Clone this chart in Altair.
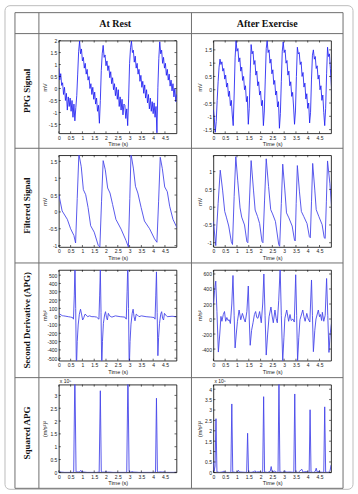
import altair as alt
import pandas as pd

FONT = "Liberation Sans"
SERIF = "Liberation Serif"
LINE = "#4747ea"
LINE_NOISY = "#1f1ff2"

W = 118
HEIGHTS = [93, 92, 91, 88]
XDOM = [0, 4.99]
X_TICKS = [0, 0.5, 1, 1.5, 2, 2.5, 3, 3.5, 4, 4.5]

COL_TITLES = ["At Rest", "After Exercise"]
ROW_TITLES = ["PPG Signal", "Filtered Signal", "Second Derivative (APG)", "Squared APG"]

# ---------------- PPG signal (sampled every 0.04 s) ----------------
PPG_T = [round(i * 0.04, 2) for i in range(127)]
PPG_REST = [
    0.85, 0.36, 0.62, 0.13, 0.24, -0.25, 0.05, -0.50, -0.20, -0.90,
    -0.35, -0.75, -0.40, -0.95, -0.50, -1.20, -0.65, -1.35, -0.80, -0.30,
    0.60, 1.55, 1.98, 1.45, 1.65, 1.15, 1.30, 0.85, 1.05, 0.60,
    0.80, 0.35, 0.50, 0.00, 0.20, -0.25, 0.05, -0.45, -0.15, -0.65,
    -0.40, -0.95, -0.70, -1.45, -0.50, 0.75, 1.45, 1.80, 1.30, 1.40,
    0.95, 1.15, 0.75, 0.95, 0.45, 0.70, 0.20, 0.45, -0.05, 0.20,
    -0.30, 0.05, -0.45, -0.05, -0.75, -0.35, -0.90, -0.45, -1.10, -0.65,
    -0.70, -1.25, -0.85, -1.55, -0.40, 1.05, 1.70, 1.98, 1.50, 1.60,
    1.10, 1.35, 0.85, 1.05, 0.60, 0.80, 0.30, 0.55, 0.05, 0.30,
    -0.20, 0.15, -0.40, -0.05, -0.60, -0.25, -0.85, -0.40, -0.95, -0.55,
    -1.05, -0.60, -1.20, -0.75, -1.85, 0.05, 1.25, 1.95, 1.45, 1.60,
    1.05, 1.30, 0.85, 1.05, 0.55, 0.80, 0.35, 0.60, 0.10, 0.35,
    -0.10, 0.20, -0.35, 0.00, -0.55, -0.25, -0.70,
]
PPG_EXER = [
    -0.75, -1.10, -1.60, -1.20, -0.40, 0.30, 0.85, 1.15, 0.95, 1.05,
    0.70, 0.80, 0.40, 0.55, 0.10, 0.25, -0.25, -0.05, -0.60, -0.40,
    -0.95, -1.35, -0.20, 1.20, 1.85, 1.45, 1.55, 1.05, 1.20, 0.70,
    0.85, 0.35, 0.50, 0.00, 0.15, -0.45, -0.25, -1.30, -0.70, 0.60,
    1.70, 1.35, 1.45, 0.95, 1.10, 0.55, 0.70, 0.15, 0.30, -0.20,
    -0.05, -0.60, -0.40, -1.35, -0.80, 0.40, 1.55, 1.85, 1.40, 1.50,
    1.00, 1.15, 0.60, 0.75, 0.20, 0.35, -0.20, -0.05, -0.65, -0.45,
    -1.45, -0.90, 0.30, 1.45, 1.80, 1.40, 1.50, 1.00, 1.10, 0.55,
    0.70, 0.15, 0.30, -0.25, -0.10, -0.65, -1.30, -0.80, 0.50, 1.60,
    1.35, 1.40, 0.95, 1.05, 0.50, 0.65, 0.10, 0.25, -0.35, -0.15,
    -0.70, -0.50, -1.25, -0.85, 0.40, 1.30, 1.50, 1.15, 1.25, 0.80,
    0.90, 0.40, 0.55, 0.00, 0.15, -0.40, -0.20, -0.85, -1.35, -0.70,
    0.60, 1.60, 1.25, 1.35, 0.80, 0.20, -0.30,
]

# ---------------- Filtered signal ----------------
FILT_REST_T = [0.00, 0.14, 0.36, 0.50, 0.64, 0.71, 0.78, 0.85, 0.95, 1.04, 1.14, 1.24, 1.35,
               1.50, 1.67, 1.74, 1.81, 1.88, 1.97, 2.07, 2.17, 2.28, 2.42, 2.64, 2.85, 2.95,
               3.01, 3.06, 3.16, 3.25, 3.35, 3.49, 3.63, 3.85, 4.06, 4.16, 4.23, 4.30, 4.39,
               4.49, 4.60, 4.70, 4.84, 5.03]
FILT_REST = [0.52, 0.03, -0.22, -0.50, -0.70, -0.92, 0.40, 1.72, 1.34, 0.66, 0.51, 0.13, -0.41,
             -0.60, -0.99, -1.04, 0.30, 1.52, 1.25, 0.71, 0.56, 0.22, -0.22, -0.51, -0.85, -1.04,
             0.40, 1.72, 1.30, 0.76, 0.56, 0.13, -0.27, -0.50, -0.80, -0.90, 0.30, 1.62, 1.28,
             0.74, 0.60, 0.17, -0.22, -0.50]
FILT_EXER_T = [0.00, 0.10, 0.20, 0.29, 0.39, 0.48, 0.55, 0.65, 0.76,
               0.81, 0.88, 0.95, 1.03, 1.13, 1.20, 1.32, 1.42,
               1.46, 1.53, 1.60, 1.70, 1.77, 1.87, 1.96, 2.06,
               2.10, 2.17, 2.24, 2.34, 2.43, 2.51, 2.63, 2.77,
               2.81, 2.88, 2.94, 3.03, 3.10, 3.20, 3.34, 3.44,
               3.47, 3.51, 3.56, 3.65, 3.73, 3.83, 3.97, 4.07,
               4.11, 4.16, 4.21, 4.30, 4.36, 4.47, 4.61, 4.70,
               4.74, 4.79, 4.84, 4.94, 5.03]
FILT_EXER = [-0.40, -1.08, 0.10, 1.04, 0.48, -0.12, -0.28, -0.53, -0.97,
             -1.05, 0.30, 1.42, 0.76, -0.02, -0.28, -0.50, -0.97,
             -1.00, 0.20, 1.31, 0.48, -0.08, -0.26, -0.46, -0.96,
             -1.00, 0.20, 1.36, 0.58, -0.07, -0.19, -0.40, -1.05,
             -1.10, 0.10, 1.21, 0.48, -0.16, -0.30, -0.53, -0.93,
             -0.95, 0.10, 1.17, 0.43, -0.12, -0.26, -0.46, -0.83,
             -0.86, 0.15, 1.23, 0.48, -0.07, -0.26, -0.49, -0.86,
             -0.88, 0.15, 1.30, 0.66, -0.16]

# ---------------- Second derivative (APG) ----------------
APG_REST_T = [0.00, 0.05, 0.10, 0.15, 0.20, 0.30, 0.40, 0.50, 0.58, 0.62, 0.655, 0.685, 0.715,
              0.745, 0.78, 0.82, 0.87, 0.92, 0.97, 1.01, 1.06, 1.11, 1.16, 1.22, 1.30, 1.40,
              1.50, 1.60, 1.66, 1.70, 1.73, 1.76, 1.79, 1.82, 1.85, 1.89, 1.94, 1.98, 2.02,
              2.06, 2.10, 2.15, 2.25, 2.40, 2.60, 2.80, 2.86, 2.895, 2.925, 2.955, 2.985,
              3.02, 3.06, 3.11, 3.15, 3.19, 3.23, 3.28, 3.33, 3.40, 3.50, 3.70, 3.90, 4.04,
              4.08, 4.11, 4.14, 4.17, 4.20, 4.23, 4.27, 4.32, 4.36, 4.40, 4.44, 4.48, 4.53,
              4.60, 4.80, 4.99]
APG_REST = [40, 30, 20, 12, 10, 5, 0, -5, -10, -30, 250, 650, 100,
            -650, -300, -100, 30, 90, 20, -40, -10, 30, 20, 0, 10, 0,
            0, -5, -20, -30, 250, 565, 50, -650, -300, -80, 20, 60, -10,
            -40, 40, 10, -5, 10, 0, -5, -30, 300, 650, 100, -650,
            -300, -90, 40, 90, 0, -50, 30, 20, 0, 10, 0, -5, -10,
            -30, 250, 540, 50, -470, -250, -80, 30, 60, -20, -40, 40, 20,
            0, 5, 0]
APG_EXER_T = [0.00, 0.05, 0.10, 0.15, 0.21, 0.27, 0.32, 0.36, 0.42, 0.47, 0.52, 0.57, 0.62,
              0.67, 0.72, 0.78, 0.83, 0.88, 0.92, 0.97, 1.02, 1.09, 1.16, 1.23, 1.30, 1.35,
              1.42, 1.48, 1.52, 1.56, 1.62, 1.68, 1.74, 1.79, 1.84, 1.89, 1.96, 2.03, 2.09,
              2.14, 2.19, 2.24, 2.30, 2.36, 2.44, 2.49, 2.54, 2.61, 2.66, 2.71, 2.77, 2.83,
              2.88, 2.94, 2.99, 3.03, 3.11, 3.19, 3.25, 3.30, 3.37, 3.43, 3.49, 3.53, 3.57,
              3.62, 3.67, 3.79, 3.84, 3.89, 3.96, 4.02, 4.09, 4.16, 4.20, 4.24, 4.30, 4.35,
              4.45, 4.50, 4.54, 4.59, 4.62, 4.68, 4.74, 4.80, 4.85, 4.90, 4.95, 5.01, 5.05]
APG_EXER = [205, 380, 505, 100, -440, -200, 35, -30, 60, 100, -30, 20, -20,
            -10, -60, 200, 580, 50, -385, -200, -30, 120, -10, 75, 0, -40,
            100, 440, 0, -350, -150, -50, 60, 100, 20, 10, 100, -50, 200,
            600, 50, -480, -200, 30, 160, 40, -50, 120, 10, -50, 250, 690,
            50, -560, -250, 10, 120, -30, 60, -20, 0, -40, 590, 50, -560,
            -250, -10, 120, 30, -30, 75, 0, -40, 520, 50, -435, -150, 0,
            120, 30, 60, -20, 90, -30, 50, 540, 50, -445, -200, -50, 180]

# ---------------- Squared APG (x 10^5) ----------------
SQ_REST_T = [0.00, 0.10, 0.25, 0.45, 0.60, 0.63, 0.68, 0.73, 0.80, 0.87, 0.93, 0.98, 1.03,
             1.10, 1.20, 1.40, 1.60, 1.71, 1.76, 1.80, 1.86, 1.93, 2.00, 2.05, 2.15, 2.30,
             2.60, 2.85, 2.88, 2.93, 2.98, 3.05, 3.12, 3.18, 3.25, 3.40, 3.70, 4.00, 4.10,
             4.14, 4.18, 4.24, 4.32, 4.38, 4.45, 4.55, 4.80, 4.99]
SQ_REST = [0.02, 0.01, 0.0, 0.0, 0.0, 0.01, 3.9, 0.01, 0.02, 0.01, 0.08, 0.01, 0.02,
           0.01, 0.0, 0.0, 0.0, 0.01, 3.18, 0.02, 0.01, 0.01, 0.03, 0.01, 0.01, 0.0,
           0.0, 0.0, 0.01, 3.9, 0.02, 0.01, 0.03, 0.01, 0.01, 0.0, 0.0, 0.0, 0.01,
           2.89, 0.02, 0.01, 0.02, 0.01, 0.02, 0.0, 0.0, 0.0]
SQ_EXER_T = [0.00, 0.03, 0.07, 0.11, 0.15, 0.25, 0.40, 0.44, 0.48, 0.60, 0.74, 0.78, 0.82,
             0.95, 1.02, 1.06, 1.10, 1.25, 1.41, 1.45, 1.49, 1.60, 1.72, 1.76, 1.80, 1.92,
             2.09, 2.13, 2.17, 2.30, 2.41, 2.45, 2.49, 2.60, 2.66, 2.74, 2.78, 2.82, 2.95,
             3.04, 3.09, 3.25, 3.41, 3.45, 3.49, 3.60, 3.75, 3.80, 3.92, 4.06, 4.10, 4.14,
             4.25, 4.32, 4.36, 4.40, 4.50, 4.55, 4.68, 4.72, 4.76, 4.88, 4.95, 4.99]
SQ_EXER = [0.50, 0.05, 0.30, 2.58, 0.02, 0.0, 0.02, 0.07, 0.01, 0.0, 0.0, 3.29, 0.02,
           0.0, 0.03, 0.10, 0.02, 0.01, 0.0, 1.88, 0.01, 0.0, 0.03, 0.08, 0.01, 0.03,
           0.0, 3.64, 0.02, 0.0, 0.05, 0.28, 0.03, 0.06, 0.01, 0.0, 4.6, 0.02, 0.0,
           0.08, 0.01, 0.02, 0.0, 3.77, 0.01, 0.0, 0.15, 0.01, 0.04, 0.0, 3.01, 0.01,
           0.0, 0.05, 0.20, 0.02, 0.06, 0.01, 0.0, 3.15, 0.01, 0.0, 0.10, 0.35]

Y_TICKS = {
    "ppg_rest": [-1.5, -1, -0.5, 0, 0.5, 1, 1.5, 2],
    "ppg_exer": [-1.5, -1, -0.5, 0, 0.5, 1, 1.5],
    "filt_rest": [-1, -0.5, 0, 0.5, 1, 1.5],
    "filt_exer": [-1, -0.5, 0, 0.5, 1],
    "apg_rest": [-500, -400, -300, -200, -100, 0, 100, 200, 300, 400, 500],
    "apg_exer": [-400, -200, 0, 200, 400, 600],
    "sq_rest": [0, 0.5, 1, 1.5, 2, 2.5, 3],
    "sq_exer": [0, 0.5, 1, 1.5, 2, 2.5, 3, 3.5, 4],
}
Y_DOMAINS = {
    "ppg_rest": [-1.87, 2.0],
    "ppg_exer": [-1.64, 1.85],
    "filt_rest": [-1.04, 1.68],
    "filt_exer": [-1.12, 1.46],
    "apg_rest": [-530, 563],
    "apg_exer": [-555, 654],
    "sq_rest": [0, 3.42],
    "sq_exer": [0, 4.22],
}


def one():
    return pd.DataFrame({"k": [0]})


def panel(t, v, key, ytitle, h, exp=False, extra=None, noisy=False):
    xs = alt.Scale(domain=XDOM, nice=False, zero=False)
    ys = alt.Scale(domain=Y_DOMAINS[key], nice=False, zero=False)
    xaxis = alt.Axis(values=X_TICKS, title="Time (s)", labelExpr="'' + datum.value",
                     titleX=W / 2, titleY=10.5, titleAlign="center", titleBaseline="middle")
    yaxis = alt.Axis(values=Y_TICKS[key], title=ytitle, labelExpr="'' + datum.value",
                     titleAngle=270, titleX=-14, titleY=h / 2, titleAlign="center",
                     titleBaseline="middle")
    xe = alt.X("t:Q", scale=xs, axis=xaxis)
    ye = alt.Y("v:Q", scale=ys, axis=yaxis)
    layers = []
    line = alt.Chart(pd.DataFrame({"t": t, "v": v})).mark_line(
        color=LINE_NOISY if noisy else LINE, strokeWidth=0.85 if noisy else 0.9,
        clip=True).encode(x=xe, y=ye)
    layers.append(line)
    xt = pd.DataFrame({"t": X_TICKS})
    yt = pd.DataFrame({"v": Y_TICKS[key]})
    tk = dict(color="#000", strokeWidth=0.6)
    layers.append(alt.Chart(xt).mark_rule(**tk).encode(x=xe, y=alt.value(h), y2=alt.value(h - 2)))
    layers.append(alt.Chart(xt).mark_rule(**tk).encode(x=xe, y=alt.value(0), y2=alt.value(2)))
    layers.append(alt.Chart(yt).mark_rule(**tk).encode(y=ye, x=alt.value(0), x2=alt.value(2)))
    layers.append(alt.Chart(yt).mark_rule(**tk).encode(y=ye, x=alt.value(W), x2=alt.value(W - 2)))
    if exp:
        layers.append(alt.Chart(one()).mark_text(
            font=FONT, fontSize=5, align="left", baseline="bottom", color="#222").encode(
            x=alt.value(1), y=alt.value(-1), text=alt.value("x 10⁵")))
    if extra:
        layers.extend(extra)
    return alt.layer(*layers).properties(width=W, height=h)


# ---------------- table decorations (in first panel's pixel frame) ----------------
deco = []
deco.append(alt.Chart(one()).mark_rect(fillOpacity=0, stroke="#bdbdbd", strokeWidth=1,
                                       cornerRadius=5).encode(
    x=alt.value(-54), x2=alt.value(295), y=alt.value(-35), y2=alt.value(450)))
for vx in [-44, -20, 133, 285]:
    deco.append(alt.Chart(one()).mark_rule(color="#6e6e6e", strokeWidth=1).encode(
        x=alt.value(vx), y=alt.value(-28), y2=alt.value(449)))
for hy in [-28, -7, 108, 223, 338, 449]:
    deco.append(alt.Chart(one()).mark_rule(color="#6e6e6e", strokeWidth=1).encode(
        x=alt.value(-44), x2=alt.value(285), y=alt.value(hy)))
for title, cx in zip(COL_TITLES, [56.5, 209]):
    deco.append(alt.Chart(one()).mark_text(
        font=SERIF, fontSize=10, fontWeight="bold", color="#111", align="center",
        baseline="middle").encode(x=alt.value(cx), y=alt.value(-17), text=alt.value(title)))
for title, cy in zip(ROW_TITLES, [50.5, 165.5, 280.5, 393.5]):
    deco.append(alt.Chart(one()).mark_text(
        font=SERIF, fontSize=9, fontWeight="bold", color="#111", align="center",
        baseline="middle", angle=270).encode(x=alt.value(-32), y=alt.value(cy),
                                              text=alt.value(title)))

charts = [
    panel(PPG_T, PPG_REST, "ppg_rest", "mV", HEIGHTS[0], extra=deco, noisy=True),
    panel(PPG_T, PPG_EXER, "ppg_exer", "mV", HEIGHTS[0], noisy=True),
    panel(FILT_REST_T, FILT_REST, "filt_rest", "mV", HEIGHTS[1]),
    panel(FILT_EXER_T, FILT_EXER, "filt_exer", "mV", HEIGHTS[1]),
    panel(APG_REST_T, APG_REST, "apg_rest", "m/s²", HEIGHTS[2]),
    panel(APG_EXER_T, APG_EXER, "apg_exer", "m/s²", HEIGHTS[2]),
    panel(SQ_REST_T, SQ_REST, "sq_rest", "(m/s²)²", HEIGHTS[3], exp=True),
    panel(SQ_EXER_T, SQ_EXER, "sq_exer", "(m/s²)²", HEIGHTS[3], exp=True),
]

chart = alt.concat(*charts, columns=2, spacing={"row": 22, "column": 37},
                   bounds="flush", align="all").properties(
    padding=4, background="white"
).configure_axis(
    labelFont=FONT, labelFontSize=5, labelColor="#222", labelPadding=2,
    labelFlush=False, labelOverlap=False, ticks=False, domain=False, grid=False,
    titleFont=FONT, titleFontSize=5.5, titleFontWeight="normal", titleColor="#222",
).configure_view(stroke="#000", strokeWidth=0.8)

chart.save("out.html", embed_options={"renderer": "svg", "actions": False})
